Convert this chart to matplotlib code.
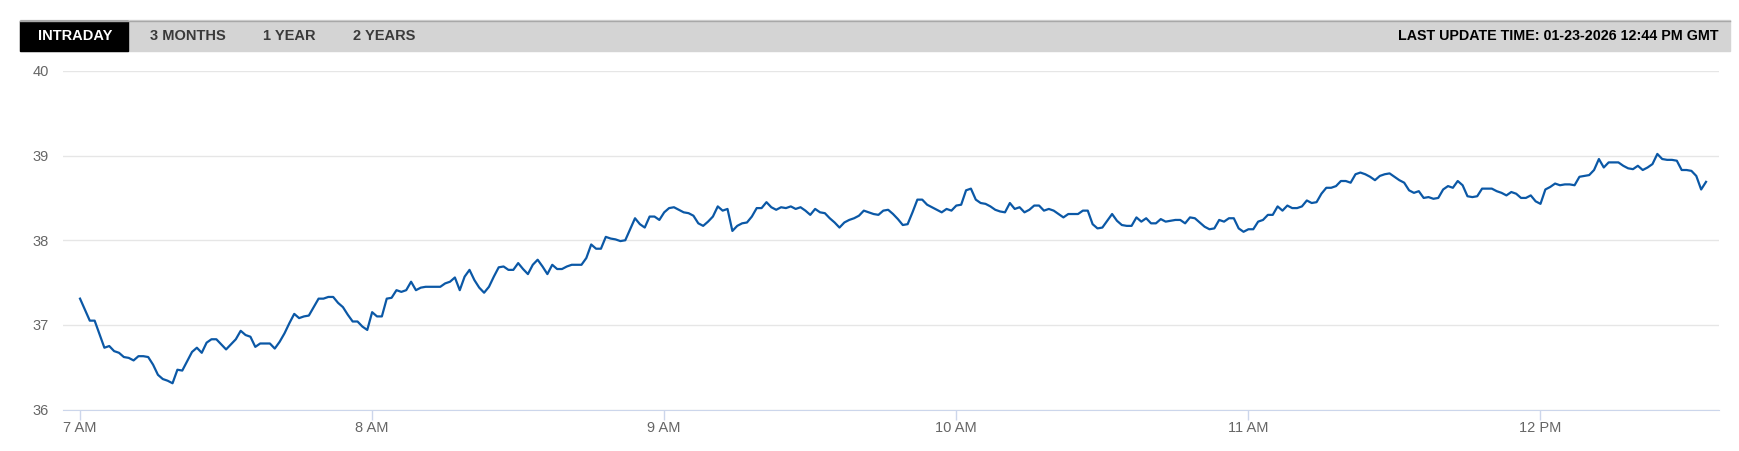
import pandas as pd
import matplotlib.pyplot as plt
from matplotlib.patches import Rectangle
from matplotlib.lines import Line2D

# one-minute prices, starting 7:00
prices = [
    37.31, 37.18, 37.05, 37.05, 36.89, 36.73, 36.75, 36.69, 36.67, 36.62,
    36.61, 36.58, 36.63, 36.63, 36.62, 36.53, 36.41, 36.36, 36.34, 36.31,
    36.47, 36.46, 36.57, 36.68, 36.73, 36.67, 36.79, 36.83, 36.83, 36.77,
    36.71, 36.77, 36.83, 36.93, 36.88, 36.86, 36.74, 36.78, 36.78, 36.78,
    36.72, 36.80, 36.90, 37.02, 37.13, 37.08, 37.10, 37.11, 37.21, 37.31,
    37.31, 37.33, 37.33, 37.26, 37.21, 37.12, 37.04, 37.04, 36.98, 36.94,
    37.15, 37.10, 37.10, 37.31, 37.32, 37.41, 37.39, 37.41, 37.51, 37.41,
    37.44, 37.45, 37.45, 37.45, 37.45, 37.49, 37.51, 37.56, 37.41, 37.57,
    37.65, 37.53, 37.44,
    37.38, 37.45, 37.57, 37.68, 37.69, 37.65, 37.65, 37.73, 37.66, 37.60,
    37.71, 37.77, 37.69, 37.60, 37.71, 37.66, 37.66, 37.69, 37.71, 37.71,
    37.71, 37.79, 37.95, 37.90, 37.90, 38.04, 38.02, 38.01, 37.99, 38.00,
    38.13, 38.26, 38.19, 38.15, 38.28, 38.28, 38.24, 38.33, 38.38, 38.39,
    38.36, 38.33, 38.32, 38.29, 38.20, 38.17, 38.22, 38.28, 38.40, 38.35,
    38.37, 38.11, 38.17, 38.20, 38.21, 38.28, 38.38, 38.38, 38.45, 38.39,
    38.36, 38.39, 38.38, 38.40, 38.37, 38.39, 38.35, 38.30, 38.37, 38.33,
    38.32, 38.26, 38.21,
    38.15, 38.21, 38.24, 38.26, 38.29, 38.35, 38.33, 38.31, 38.30, 38.35,
    38.36, 38.31, 38.25, 38.18, 38.19, 38.33, 38.48, 38.48, 38.42, 38.39,
    38.36, 38.33, 38.37, 38.35, 38.41, 38.42, 38.59, 38.61, 38.48, 38.44,
    38.43, 38.40, 38.36, 38.34, 38.33, 38.44, 38.37, 38.39, 38.33, 38.36,
    38.41, 38.41, 38.35, 38.37, 38.35, 38.31, 38.27, 38.31, 38.31, 38.31,
    38.35, 38.35, 38.19, 38.14, 38.15, 38.23, 38.31, 38.23, 38.18, 38.17,
    38.17, 38.27, 38.22, 38.26, 38.20, 38.20, 38.25, 38.22, 38.23, 38.24,
    38.24, 38.20, 38.27, 38.26, 38.21, 38.16, 38.13, 38.14, 38.24, 38.22,
    38.26, 38.26, 38.14, 38.10, 38.13, 38.13, 38.22, 38.24, 38.30, 38.30,
    38.40, 38.35, 38.41, 38.38, 38.38,
    38.40, 38.47, 38.44, 38.45, 38.55, 38.62, 38.62, 38.64, 38.70, 38.70,
    38.68, 38.78, 38.80, 38.78, 38.75, 38.71, 38.76, 38.78, 38.79, 38.75,
    38.71, 38.68, 38.59, 38.56, 38.58, 38.50, 38.51, 38.49, 38.50, 38.60,
    38.64, 38.62, 38.70, 38.65, 38.52, 38.51, 38.52, 38.61, 38.61, 38.61,
    38.58, 38.56, 38.53, 38.57, 38.55, 38.50, 38.50, 38.53, 38.46, 38.43,
    38.60, 38.63, 38.67, 38.65, 38.66, 38.66, 38.65, 38.75, 38.76, 38.77,
    38.83, 38.96, 38.86, 38.92, 38.92, 38.92, 38.88, 38.85, 38.84, 38.88,
    38.83, 38.86, 38.90, 39.02, 38.96, 38.95, 38.95, 38.94, 38.83, 38.83,
    38.82, 38.76, 38.60, 38.69,
]
start_time = "2026-01-23 07:00"
hour_ticks = ["07:00", "08:00", "09:00", "10:00", "11:00", "12:00"]
hour_labels = ["7 AM", "8 AM", "9 AM", "10 AM", "11 AM", "12 PM"]
y_ticks = [36, 37, 38, 39, 40]
tabs = ["INTRADAY", "3 MONTHS", "1 YEAR", "2 YEARS"]
update_text = "LAST UPDATE TIME: 01-23-2026 12:44 PM GMT"

day = "2026-01-23 "
times = pd.date_range(start_time, periods=len(prices), freq="min")

W, H = 1739, 451
plt.rcParams["font.family"] = ["Liberation Sans", "DejaVu Sans"]
fig = plt.figure(figsize=(W / 100, H / 100), dpi=100)

# top menu bar
fig.patches.append(Rectangle((20 / W, 1 - 51 / H), 1710 / W, 31 / H,
                             transform=fig.transFigure, color="#d4d4d4", zorder=0))
fig.lines.append(Line2D([20 / W, 1730 / W], [1 - 20.5 / H, 1 - 20.5 / H],
                        transform=fig.transFigure, color="#a8a8a8", lw=1))
fig.patches.append(Rectangle((20 / W, 1 - 51 / H), 108 / W, 30.5 / H,
                             transform=fig.transFigure, color="black", zorder=1))
tab_x = [75, 187.5, 289.5, 384]
for i, (label, x) in enumerate(zip(tabs, tab_x)):
    fig.text(x / W, 1 - 36 / H, label, ha="center", va="center",
             fontsize=10.5, fontweight="bold",
             color="white" if i == 0 else "#3a3a3a")
fig.text(1719 / W, 1 - 36 / H, update_text, ha="right", va="center",
         fontsize=10.3, fontweight="bold", color="black")

# price chart
ax = fig.add_axes([63 / W, 1 - 409.5 / H, (1719 - 63) / W, (409.5 - 71) / H])
ax.plot(times, prices, color="#0b58a6", lw=1.6, solid_joinstyle="round")
ax.set_ylim(36, 40)
ax.set_xlim(pd.Timestamp(day + "06:56:30"), pd.Timestamp(day + "12:36:40"))

ax.set_yticks(y_ticks)
ax.set_yticklabels([str(v) for v in y_ticks])
ax.set_xticks([pd.Timestamp(day + t) for t in hour_ticks])
ax.set_xticklabels(hour_labels)

ax.grid(axis="y", color="#e6e6e6", lw=1)
ax.set_axisbelow(True)
for side in ["top", "right", "left"]:
    ax.spines[side].set_visible(False)
ax.spines["bottom"].set_color("#ccd6eb")
ax.tick_params(axis="y", length=0, pad=10, labelsize=10.5, labelcolor="#666666")
ax.tick_params(axis="x", length=7, width=1, color="#ccd6eb", pad=1,
               labelsize=10.5, labelcolor="#666666")

plt.savefig("out.png", dpi=100)
